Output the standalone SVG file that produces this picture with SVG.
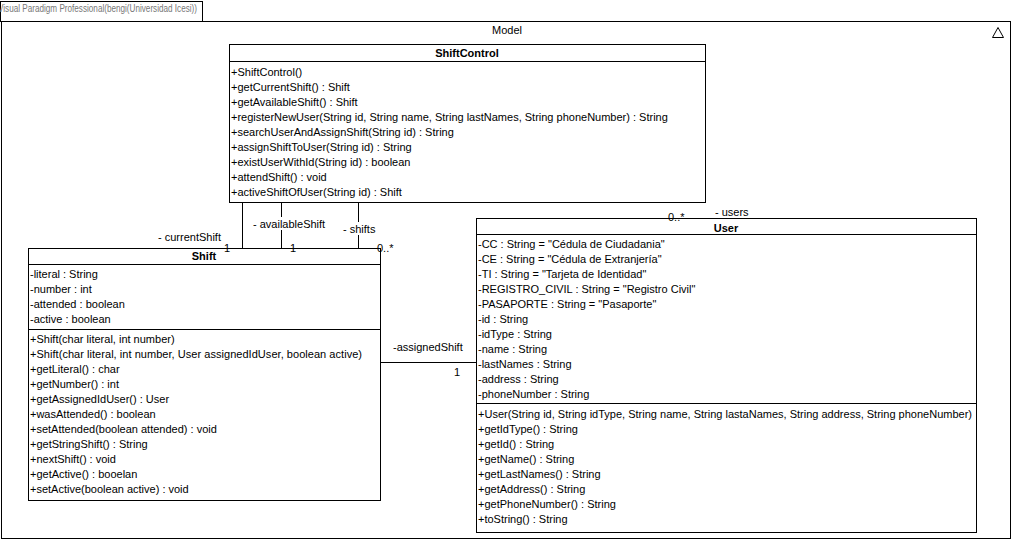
<svg xmlns="http://www.w3.org/2000/svg" width="1015" height="544" viewBox="0 0 1015 544">
  <style>
    text { font-family: "Liberation Sans", Arial, sans-serif; font-size: 11px; fill: #000; }
    .name { font-weight: bold; text-anchor: middle; }
    .box { fill: #fff; stroke: #000; stroke-width: 1; }
    .sep { stroke: #000; stroke-width: 1; }
    .conn { stroke: #000; stroke-width: 1; fill: none; }
    .lblbg { fill: #fff; }
    .mid { text-anchor: middle; }
    .tab { fill: #777; font-size: 10.5px; }
  </style>

  <rect width="1015" height="544" fill="#fff"/>

  <!-- package frame -->
  <g id="frame">
    <rect x="0.5" y="1.5" width="202" height="20" fill="#fff" stroke="#000"/>
    <text class="tab" x="-2" y="11.5" textLength="199" lengthAdjust="spacingAndGlyphs">Visual Paradigm Professional(bengi(Universidad Icesi))</text>
    <rect x="1.5" y="21.5" width="1009" height="517" fill="none" stroke="#000"/>
    <text class="mid" x="507" y="34">Model</text>
    <polygon points="998,27.5 992.5,37.5 1003.5,37.5" fill="none" stroke="#000"/>
  </g>

  <!-- associations -->
  <g id="connectors">
    <line class="conn" x1="242.5" y1="203" x2="242.5" y2="248"/>
    <line class="conn" x1="281.5" y1="203" x2="281.5" y2="248"/>
    <line class="conn" x1="358.5" y1="203" x2="358.5" y2="248"/>
    <line class="conn" x1="381" y1="362.5" x2="476" y2="362.5"/>

    <rect class="lblbg" x="252" y="217" width="76" height="13"/>
    <text x="253" y="228">- availableShift</text>
    <rect class="lblbg" x="342" y="222" width="34" height="13"/>
    <text x="343" y="233">- shifts</text>
    <text x="158" y="241">- currentShift</text>
    <text x="393" y="351">-assignedShift</text>
    <text x="715" y="216">- users</text>
  </g>

  <!-- ShiftControl -->
  <g id="ShiftControl">
    <rect class="box" x="229.5" y="44.5" width="476" height="158"/>
    <line class="sep" x1="229.5" y1="61.5" x2="705.5" y2="61.5"/>
    <text class="name" x="467" y="57">ShiftControl</text>
    <text x="231" y="75.5">+ShiftControl()</text>
    <text x="231" y="90.5">+getCurrentShift() : Shift</text>
    <text x="231" y="105.5">+getAvailableShift() : Shift</text>
    <text x="231" y="120.5">+registerNewUser(String id, String name, String lastNames, String phoneNumber) : String</text>
    <text x="231" y="135.5">+searchUserAndAssignShift(String id) : String</text>
    <text x="231" y="150.5">+assignShiftToUser(String id) : String</text>
    <text x="231" y="165.5">+existUserWithId(String id) : boolean</text>
    <text x="231" y="180.5">+attendShift() : void</text>
    <text x="231" y="195.5">+activeShiftOfUser(String id) : Shift</text>
  </g>

  <!-- Shift -->
  <g id="Shift">
    <rect class="box" x="28.5" y="248.5" width="352" height="252"/>
    <line class="sep" x1="28.5" y1="264.5" x2="380.5" y2="264.5"/>
    <line class="sep" x1="28.5" y1="329.5" x2="380.5" y2="329.5"/>
    <text class="name" x="204" y="260">Shift</text>
    <text x="30" y="278">-literal : String</text>
    <text x="30" y="293">-number : int</text>
    <text x="30" y="308">-attended : boolean</text>
    <text x="30" y="323">-active : boolean</text>
    <text x="30" y="342.5">+Shift(char literal, int number)</text>
    <text x="30" y="357.5" textLength="332">+Shift(char literal, int number, User assignedIdUser, boolean active)</text>
    <text x="30" y="372.5">+getLiteral() : char</text>
    <text x="30" y="387.5">+getNumber() : int</text>
    <text x="30" y="402.5">+getAssignedIdUser() : User</text>
    <text x="30" y="417.5">+wasAttended() : boolean</text>
    <text x="30" y="432.5">+setAttended(boolean attended) : void</text>
    <text x="30" y="447.5">+getStringShift() : String</text>
    <text x="30" y="462.5">+nextShift() : void</text>
    <text x="30" y="477.5">+getActive() : booelan</text>
    <text x="30" y="492.5">+setActive(boolean active) : void</text>
  </g>

  <!-- User -->
  <g id="User">
    <rect class="box" x="476.5" y="218.5" width="500" height="314"/>
    <line class="sep" x1="476.5" y1="234.5" x2="976.5" y2="234.5"/>
    <line class="sep" x1="476.5" y1="403.5" x2="976.5" y2="403.5"/>
    <text class="name" x="726" y="232">User</text>
    <text x="478" y="248">-CC : String = "Cédula de Ciudadania"</text>
    <text x="478" y="263">-CE : String = "Cédula de Extranjería"</text>
    <text x="478" y="278">-TI : String = "Tarjeta de Identidad"</text>
    <text x="478" y="293">-REGISTRO_CIVIL : String = "Registro Civil"</text>
    <text x="478" y="308">-PASAPORTE : String = "Pasaporte"</text>
    <text x="478" y="323">-id : String</text>
    <text x="478" y="338">-idType : String</text>
    <text x="478" y="353">-name : String</text>
    <text x="478" y="368">-lastNames : String</text>
    <text x="478" y="383">-address : String</text>
    <text x="478" y="398">-phoneNumber : String</text>
    <text x="478" y="417.5" textLength="494">+User(String id, String idType, String name, String lastaNames, String address, String phoneNumber)</text>
    <text x="478" y="432.5">+getIdType() : String</text>
    <text x="478" y="447.5">+getId() : String</text>
    <text x="478" y="462.5">+getName() : String</text>
    <text x="478" y="477.5">+getLastNames() : String</text>
    <text x="478" y="492.5">+getAddress() : String</text>
    <text x="478" y="507.5">+getPhoneNumber() : String</text>
    <text x="478" y="522.5">+toString() : String</text>
  </g>

  <!-- multiplicities -->
  <g id="multiplicities">
    <text class="mid" x="227" y="252">1</text>
    <text class="mid" x="293" y="252">1</text>
    <text x="377" y="252">0..*</text>
    <text class="mid" x="457" y="376">1</text>
    <text x="668" y="221">0..*</text>
  </g>
</svg>
